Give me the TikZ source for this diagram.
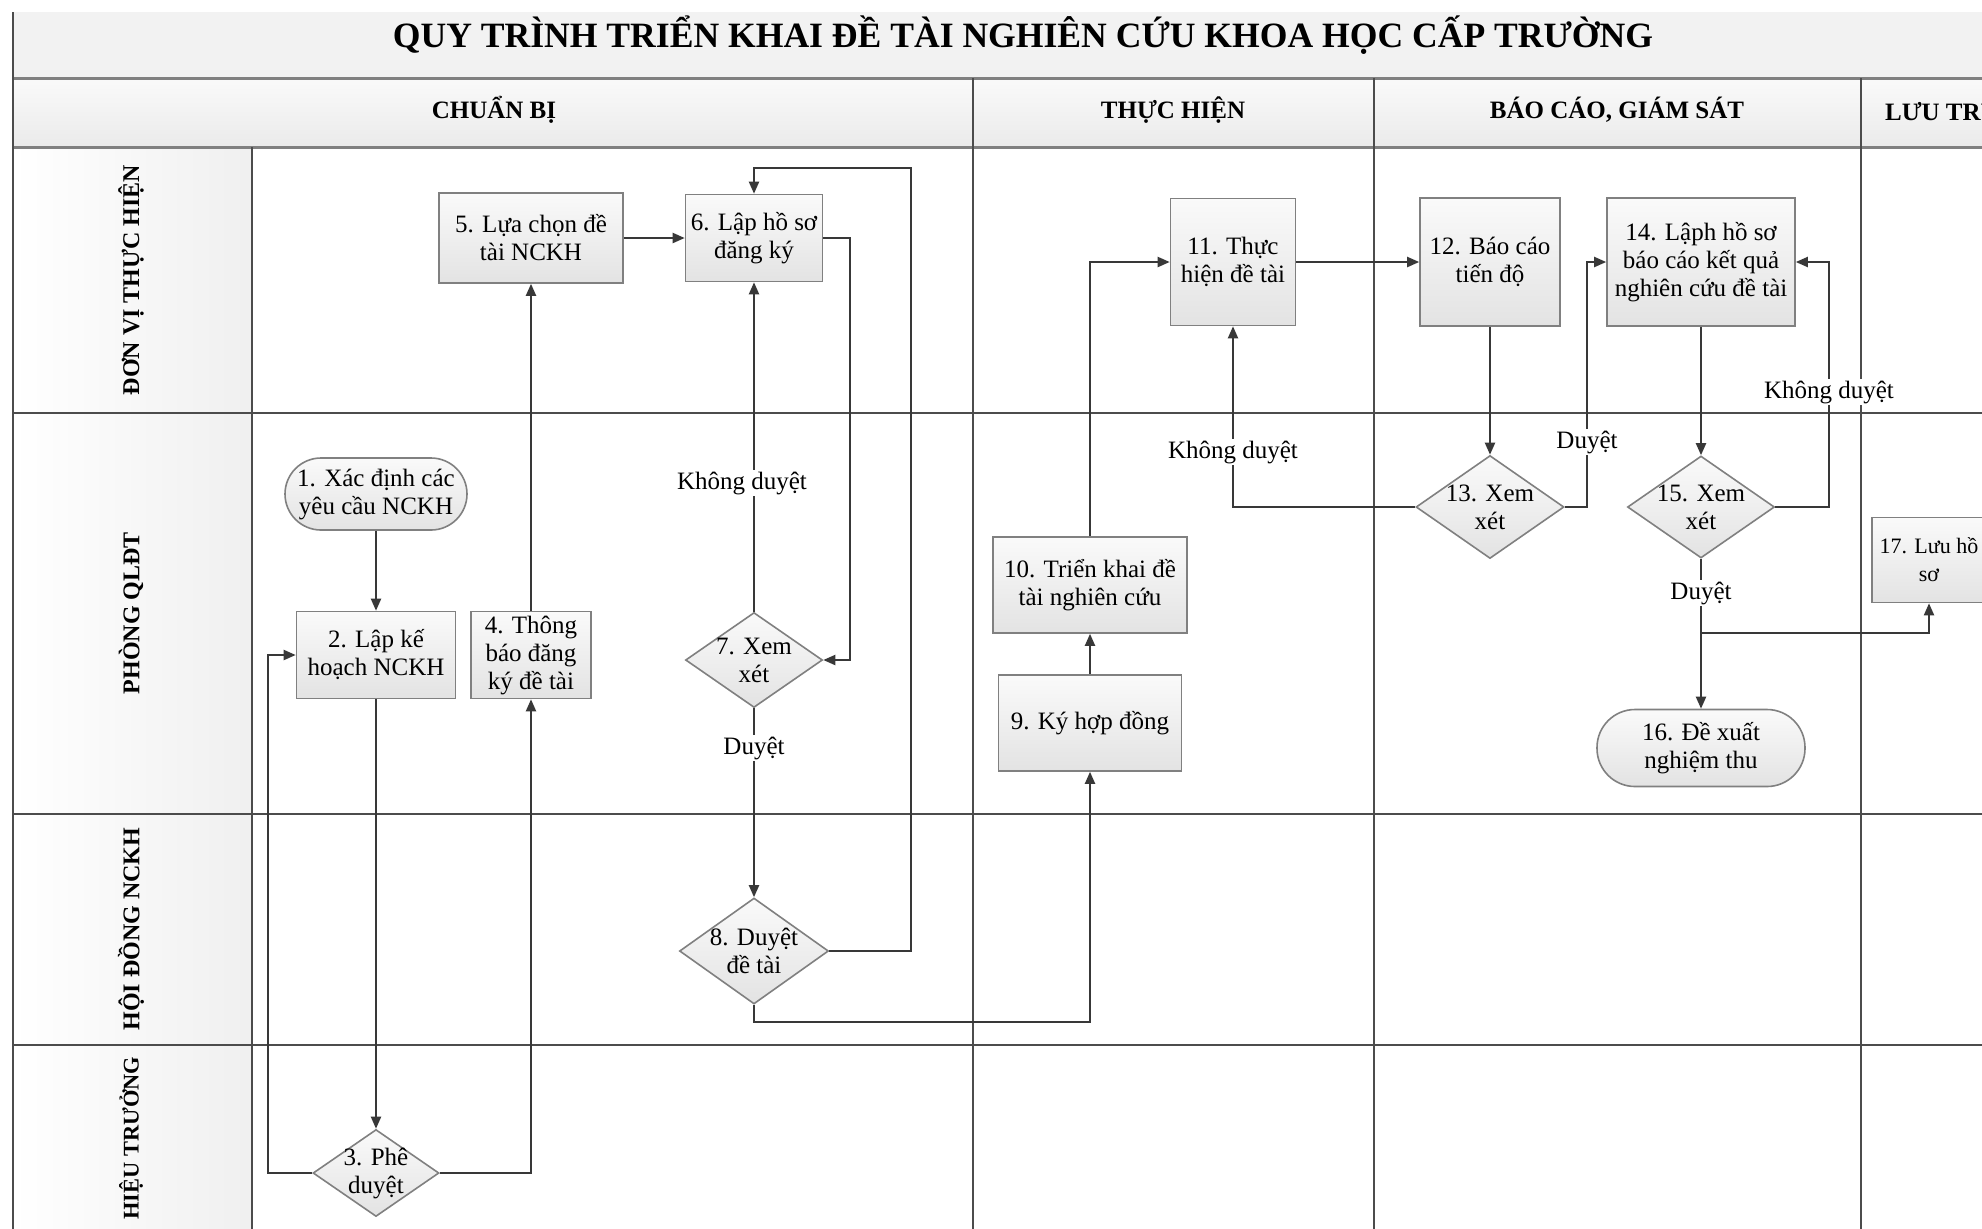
\documentclass[tikz,border=0pt]{standalone}
\usepackage{fontspec}
\setmainfont{Liberation Serif}
\usetikzlibrary{shapes.geometric,arrows.meta}
\begin{document}
\begin{tikzpicture}[x=0.5pt,y=-0.5pt,
  gridline/.style={draw=black!70,line width=1pt},
  hline/.style={draw=black!50,line width=1.5pt},
  conn/.style={draw=black!78,line width=1pt,-{Triangle[length=6pt,width=5pt]}},
  nodefont/.style={font=\fontsize{12.5}{14}\selectfont},
  box/.style={rectangle,draw=black!50,line width=0.8pt,top color=black!2,bottom color=black!11,inner sep=0pt,align=center,nodefont},
  term/.style={box,rounded corners=18pt},
  dia/.style={diamond,draw=black!50,line width=0.8pt,top color=black!2,bottom color=black!11,inner sep=0pt},
  dtext/.style={align=center,inner sep=0pt,nodefont},
  elabel/.style={fill=white,inner sep=1pt,nodefont},
  lanelbl/.style={rotate=90,font=\bfseries\fontsize{12}{14}\selectfont},
  phase/.style={font=\bfseries\fontsize{12.5}{14}\selectfont}]
\useasboundingbox (0,0) rectangle (1982,1228);
\clip (0,0) rectangle (1982,1228);
% backgrounds
\fill[white] (0,0) rectangle (1982,1228);
\fill[black!5] (13,12) rectangle (1990,78);
\shade[top color=black!2,bottom color=black!8] (13,78) rectangle (1990,147);
\shade[left color=white,right color=black!6] (13,147) rectangle (252,1240);
% grid
\draw[hline] (13,78) -- (1990,78);
\draw[hline] (13,147) -- (1990,147);
\draw[gridline] (13,413) -- (1990,413);
\draw[gridline] (13,814) -- (1990,814);
\draw[gridline] (13,1045) -- (1990,1045);
\draw[gridline] (13,12) -- (13,1240);
\draw[gridline] (252,147) -- (252,1240);
\draw[gridline] (973,78) -- (973,1240);
\draw[gridline] (1374,78) -- (1374,1240);
\draw[gridline] (1861,78) -- (1861,1240);
% title and headers
\node[font=\bfseries\fontsize{17.8}{20}\selectfont] (title) at (1023,35) {QUY TRÌNH TRIỂN KHAI ĐỀ TÀI NGHIÊN CỨU KHOA HỌC CẤP TRƯỜNG};
\node[phase] (ph1) at (494,110) {CHUẨN BỊ};
\node[phase] (ph2) at (1173,110) {THỰC HIỆN};
\node[phase] (ph3) at (1617,110) {BÁO CÁO, GIÁM SÁT};
\node[phase,anchor=west] (ph4) at (1878,110) {LƯU TRỮ};
\node[lanelbl] (ln1) at (131,280) {ĐƠN VỊ THỰC HIỆN};
\node[lanelbl] (ln2) at (131,613) {PHÒNG QLĐT};
\node[lanelbl] (ln3) at (131,929) {HỘI ĐỒNG NCKH};
\node[lanelbl,font=\bfseries\fontsize{11.2}{14}\selectfont] (ln4) at (131,1138) {HIỆU TRƯỞNG};
% nodes
\node[term,minimum width=91pt,minimum height=36pt] (n1) at (376,494) {1. Xác định các\\yêu cầu NCKH};
\node[box,minimum width=79.5pt,minimum height=43.5pt] (n2) at (376,655) {2. Lập kế\\hoạch NCKH};
\node[dia,minimum width=63pt,minimum height=43.5pt] (n3) at (376,1173) {};
\node[dtext] (n3t) at (n3) {3. Phê\\duyệt};
\node[box,minimum width=60pt,minimum height=43.5pt] (n4) at (531,655) {4. Thông\\báo đăng\\ký đề tài};
\node[box,minimum width=92pt,minimum height=45pt] (n5) at (531,238) {5. Lựa chọn đề\\tài NCKH};
\node[box,minimum width=68.5pt,minimum height=43.5pt] (n6) at (754,238) {6. Lập hồ sơ\\đăng ký};
\node[dia,minimum width=68.5pt,minimum height=47.5pt] (n7) at (754,660) {};
\node[dtext] (n7t) at (n7) {7. Xem\\xét};
\node[dia,minimum width=74.5pt,minimum height=53pt] (n8) at (754,951) {};
\node[dtext] (n8t) at (n8) {8. Duyệt\\đề tài};
\node[box,minimum width=91.5pt,minimum height=48pt] (n9) at (1090,723) {9. Ký hợp đồng};
\node[box,minimum width=97pt,minimum height=48pt] (n10) at (1090,585) {10. Triển khai đề\\tài nghiên cứu};
\node[box,minimum width=62.5pt,minimum height=63.5pt] (n11) at (1233,262) {11. Thực\\hiện đề tài};
\node[box,minimum width=70pt,minimum height=64pt] (n12) at (1490,262) {12. Báo cáo\\tiến độ};
\node[dia,minimum width=74pt,minimum height=51.5pt] (n13) at (1490,507) {};
\node[dtext] (n13t) at (n13) {13. Xem\\xét};
\node[box,minimum width=94pt,minimum height=64pt] (n14) at (1701,262) {14. Lậph hồ sơ\\báo cáo kết quả\\nghiên cứu đề tài};
\node[dia,minimum width=73.5pt,minimum height=51pt] (n15) at (1701,507) {};
\node[dtext] (n15t) at (n15) {15. Xem\\xét};
\node[term,minimum width=104pt,minimum height=38.5pt,rounded corners=19pt] (n16) at (1701,748) {16. Đề xuất\\nghiệm thu};
\node[box,minimum width=57pt,minimum height=42.5pt,font=\fontsize{11}{14}\selectfont] (n17) at (1929,560) {17. Lưu hồ\\sơ};
% connectors
\draw[conn] (n1.south) -- (n2.north);
\draw[conn] (n2.south) -- (n3.north);
\draw[conn] (n3.west) -- (268,1173) |- (n2.west);
\draw[conn] (n3.east) -| (n4.south);
\draw[conn] (n4.north) -- (n5.south);
\draw[conn] (n5.east) -- (n6.west);
\draw[conn] (n6.east) -- (850,238) |- (n7.east);
\draw[conn] (n7.north) -- (n6.south);
\draw[conn] (n7.south) -- (n8.north);
\draw[conn] (n8.east) -- (911,951) -- (911,168) -| (n6.north);
\draw[conn] (n8.south) -- (754,1022) -| (n9.south);
\draw[conn] (n9.north) -- (n10.south);
\draw[conn] (n10.north) |- (n11.west);
\draw[conn] (n11.east) -- (n12.west);
\draw[conn] (n12.south) -- (n13.north);
\draw[conn] (n13.west) -| (n11.south);
\draw[conn] (n13.east) -- (1587,507) |- (n14.west);
\draw[conn] (n14.south) -- (n15.north);
\draw[conn] (n15.east) -- (1829,507) |- (n14.east);
\draw[conn] (n15.south) -- (n16.north);
\coordinate (br) at (1701,633);
\draw[conn] (br) -| (n17.south);
% edge labels
\node[elabel] (e1) at (742,483) {Không duyệt};
\node[elabel] (e2) at (754,748) {Duyệt};
\node[elabel] (e3) at (1233,452) {Không duyệt};
\node[elabel] (e4) at (1587,442) {Duyệt};
\node[elabel] (e5) at (1829,392) {Không duyệt};
\node[elabel] (e6) at (1701,593) {Duyệt};
\end{tikzpicture}
\end{document}
